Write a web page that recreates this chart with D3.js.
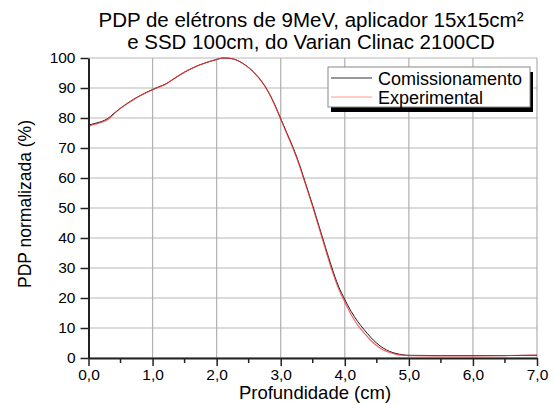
<!DOCTYPE html>
<html>
<head>
<meta charset="utf-8">
<script src="https://cdn.jsdelivr.net/npm/d3@7"></script>
<style>
  body { margin: 0; background: #fff; }
  svg text { font-family: "Liberation Sans", Arial, sans-serif; fill: #000; }
</style>
</head>
<body>
<div id="chart"></div>
<script>
// depth (cm) at which both curves were read
const depths = [0.0, 0.1, 0.2, 0.3, 0.4, 0.5, 0.6, 0.7, 0.8, 0.9,
                1.0, 1.1, 1.2, 1.3, 1.4, 1.5, 1.6, 1.7, 1.8, 1.9,
                2.0, 2.1, 2.2, 2.3, 2.4, 2.5, 2.6, 2.7, 2.8, 2.9,
                3.0, 3.1, 3.2, 3.3, 3.4, 3.5, 3.6, 3.7, 3.8, 3.9,
                4.0, 4.1, 4.2, 4.3, 4.4, 4.5, 4.6, 4.7, 4.8, 4.9,
                5.0, 5.5, 6.0, 6.5, 7.0];

const comissionamento = [77.6, 78.2, 78.8, 79.8, 81.6, 83.3, 84.8, 86.2, 87.4, 88.5,
                         89.5, 90.4, 91.3, 92.6, 94.0, 95.3, 96.4, 97.4, 98.2, 98.9,
                         99.5, 100.0, 99.9, 99.4, 98.3, 96.8, 94.8, 92.3, 89.0, 84.8,
                         79.8, 74.8, 69.8, 64.0, 57.4, 50.8, 43.8, 36.8, 30.0, 24.0,
                         19.5, 15.5, 12.2, 9.5, 7.0, 4.9, 3.3, 2.2, 1.5, 1.1,
                         0.9, 0.8, 0.8, 0.8, 0.9];

const experimental = [77.2, 77.9, 78.5, 79.5, 81.4, 83.2, 84.7, 86.1, 87.3, 88.4,
                      89.4, 90.3, 91.2, 92.6, 94.0, 95.3, 96.4, 97.4, 98.2, 98.9,
                      99.5, 100.0, 99.9, 99.4, 98.3, 96.8, 94.7, 92.2, 88.9, 84.6,
                      79.6, 74.5, 69.4, 63.6, 57.0, 50.3, 43.2, 36.1, 29.2, 23.2,
                      18.6, 14.4, 11.0, 8.4, 6.0, 4.1, 2.7, 1.8, 1.2, 0.9,
                      0.8, 0.7, 0.7, 0.8, 1.0];

const xTicks = [0, 1, 2, 3, 4, 5, 6, 7];
const xMinor = [0.5, 1.5, 2.5, 3.5, 4.5, 5.5, 6.5];
const yTicks = [0, 10, 20, 30, 40, 50, 60, 70, 80, 90, 100];

const titleLines = ["PDP de elétrons de 9MeV, aplicador 15x15cm²",
                    "e SSD 100cm, do Varian Clinac 2100CD"];
const seriesNames = ["Comissionamento", "Experimental"];
const seriesColors = ["#000000", "#ff3030"];

const width = 554, height = 405;
const margin = {top: 58, right: 17, bottom: 47, left: 88.5};

const svg = d3.select("#chart").append("svg")
  .attr("width", width)
  .attr("height", height);

const x = d3.scaleLinear().domain([0, 7]).range([margin.left, width - margin.right]);
const y = d3.scaleLinear().domain([0, 100]).range([height - margin.bottom, margin.top]);

// grid
svg.append("g").selectAll("line")
  .data(yTicks)
  .enter().append("line")
  .attr("x1", x(0)).attr("x2", x(7))
  .attr("y1", d => y(d)).attr("y2", d => y(d))
  .attr("stroke", "#cfcfcf")
  .attr("stroke-width", 1.5);

svg.append("g").selectAll("line")
  .data(xTicks.slice(1))
  .enter().append("line")
  .attr("x1", d => x(d)).attr("x2", d => x(d))
  .attr("y1", y(0)).attr("y2", y(100))
  .attr("stroke", "#b0b0b0")
  .attr("stroke-width", 1.2);

// curves
const line = d3.line()
  .x(d => x(d[0]))
  .y(d => y(d[1]))
  .curve(d3.curveMonotoneX);

[comissionamento, experimental].forEach((vals, i) => {
  svg.append("path")
    .datum(depths.map((d, j) => [d, vals[j]]))
    .attr("d", line)
    .attr("fill", "none")
    .attr("stroke", seriesColors[i])
    .attr("stroke-width", i === 0 ? 1 : 1.1)
    .attr("stroke-opacity", i === 0 ? 0.9 : 0.8);
});

// axes
const fmt = d => d3.format(".1f")(d).replace(".", ",");

const xAxis = svg.append("g")
  .attr("transform", `translate(0,${y(0)})`)
  .call(d3.axisBottom(x).tickValues(xTicks).tickFormat(fmt).tickSize(8).tickSizeOuter(0).tickPadding(3));

svg.append("g")
  .attr("transform", `translate(0,${y(0)})`)
  .selectAll("line")
  .data(xMinor)
  .enter().append("line")
  .attr("x1", d => x(d)).attr("x2", d => x(d))
  .attr("y1", 0).attr("y2", 5)
  .attr("stroke", "#222")
  .attr("stroke-width", 1.5);

const yAxis = svg.append("g")
  .attr("transform", `translate(${x(0)},0)`)
  .call(d3.axisLeft(y).tickValues(yTicks).tickSize(8).tickSizeOuter(0).tickPadding(5));

[xAxis, yAxis].forEach(g => {
  g.select(".domain").attr("stroke", "#222").attr("stroke-width", 2);
  g.selectAll(".tick line").attr("stroke", "#222").attr("stroke-width", 1.5);
  g.selectAll(".tick text")
    .style("font-size", "15.5px")
    .style("font-family", "'Liberation Sans', Arial, sans-serif")
    .attr("fill", "#000");
});

// title
svg.append("g").selectAll("text")
  .data(titleLines)
  .enter().append("text")
  .attr("x", 311)
  .attr("y", (d, i) => 27 + i * 22)
  .attr("text-anchor", "middle")
  .style("font-size", "20.5px")
  .text(d => d);

// axis titles
svg.append("text")
  .attr("x", 315)
  .attr("y", 399)
  .attr("text-anchor", "middle")
  .style("font-size", "18.5px")
  .text("Profundidade (cm)");

svg.append("text")
  .attr("transform", "translate(31,204) rotate(-90)")
  .attr("text-anchor", "middle")
  .style("font-size", "17.5px")
  .text("PDP normalizada (%)");

// legend
const legend = svg.append("g").attr("transform", "translate(328,67)");
legend.append("rect")
  .attr("x", 3).attr("y", 5)
  .attr("width", 202).attr("height", 40)
  .attr("fill", "#000");
legend.append("rect")
  .attr("width", 202).attr("height", 40)
  .attr("fill", "#fff")
  .attr("stroke", "#888")
  .attr("stroke-width", 1);

seriesNames.forEach((name, i) => {
  const row = legend.append("g").attr("transform", `translate(0,${11 + i * 19})`);
  row.append("line")
    .attr("x1", 3).attr("x2", 44)
    .attr("stroke", seriesColors[i])
    .attr("stroke-width", 1)
    .attr("stroke-opacity", i === 0 ? 0.8 : 0.5);
  row.append("text")
    .attr("x", 50)
    .attr("y", 6.5)
    .style("font-size", "18px")
    .text(name);
});
</script>
</body>
</html>
